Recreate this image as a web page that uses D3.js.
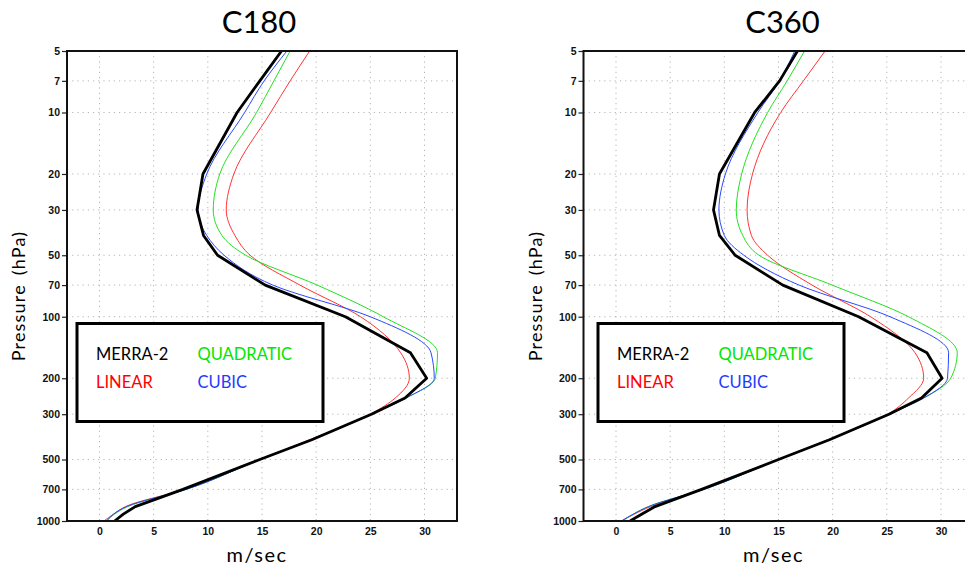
<!DOCTYPE html>
<html lang="en">
<head>
    <meta charset="UTF-8">
    <title>wind-profiles</title>
    <style>
        body {
            margin: 0;
            background: #fff;
            font-family: Lato, "Noto Sans", sans-serif;
        }
    </style>
    <script src="https://d3js.org/d3.v7.min.js"></script>
</head>
<body>

<script>

    // pressure levels (hPa) shared by every profile
    let levels = [5, 7, 10, 20, 30, 40, 50, 70, 100, 150, 200, 250, 300, 400, 500, 700, 850, 925, 1000]
    let yTicks = [5, 7, 10, 20, 30, 50, 70, 100, 200, 300, 500, 700, 1000]
    let xTicks = [0, 5, 10, 15, 20, 25, 30]

    // C180 panel, wind speed in m/sec per level
    let c180Merra = [16.8, 14.8, 12.7, 9.55, 9.0, 9.6, 10.9, 15.3, 22.7, 28.7, 30.2, 28.2, 25.1, 19.6, 14.8, 7.7, 3.3, 2.2, 1.4]
    let c180Linear = [19.4, 17.6, 15.8, 12.4, 11.7, 12.5, 13.9, 18.5, 24.1, 27.8, 28.6, 27.3, 25.0, 19.4, 14.8, 7.9, 2.4, 1.3, 0.4]
    let c180Quadratic = [17.6, 16.1, 14.5, 11.1, 10.5, 11.3, 13.5, 20.1, 26.2, 31.2, 31.0, 28.3, 25.1, 19.6, 14.8, 8.0, 2.6, 1.4, 0.6]
    let c180Cubic = [17.3, 15.2, 13.4, 9.9, 9.1, 9.9, 11.5, 16.0, 25.0, 30.6, 30.9, 28.3, 25.1, 19.6, 14.8, 8.0, 2.5, 1.3, 0.7]

    // C360 panel
    let c360Merra = [16.75, 15.1, 12.8, 9.55, 9.0, 9.55, 11.0, 15.4, 22.4, 28.7, 30.1, 28.2, 25.2, 19.7, 15.0, 7.9, 3.6, 2.4, 1.3]
    let c360Linear = [19.3, 17.3, 15.2, 12.6, 12.1, 12.5, 14.0, 18.1, 23.5, 27.6, 28.4, 27.0, 25.1, 19.6, 15.0, 8.0, 3.2, 1.7, 0.5]
    let c360Quadratic = [17.4, 15.8, 14.0, 11.6, 11.1, 11.7, 13.2, 19.96, 27.0, 31.5, 30.9, 28.4, 25.2, 19.7, 15.0, 8.1, 3.0, 1.6, 0.6]
    let c360Cubic = [16.5, 15.1, 13.1, 10.1, 9.5, 10.0, 11.8, 16.9, 25.3, 30.7, 30.6, 28.4, 25.2, 19.7, 15.0, 8.1, 3.0, 1.6, 0.5]

    let seriesNames = ["MERRA-2", "LINEAR", "QUADRATIC", "CUBIC"]
    let seriesColors = ["#000000", "#ff3434", "#22e022", "#2848ff"]
    let legendColors = ["#000000", "#ff0000", "#00e600", "#1e3cff"]
    let seriesWidths = [2.8, 1, 1, 1]

    let panels = [
        {title: "C180", left: 67, titleShift: -3, legendShift: 10, data: [c180Merra, c180Linear, c180Quadratic, c180Cubic]},
        {title: "C360", left: 583.5, titleShift: 4, legendShift: 14.5, data: [c360Merra, c360Linear, c360Quadratic, c360Cubic]}
    ]

    let width = 965
    let height = 568
    let plotW = 390
    let plotTop = 51
    let plotBottom = 521

    let svg = d3.select("body").append("svg")
        .attr("width", width)
        .attr("height", height)

    let y = d3.scaleLog().domain([5, 1000]).range([plotTop, plotBottom])

    panels.forEach(function (p) {
        let x = d3.scaleLinear().domain([-3, 33]).range([p.left, p.left + plotW])
        let g = svg.append("g")
        let mid = (x(-3) + x(33)) / 2

        // dotted grid
        g.append("g").selectAll("line")
            .data(xTicks)
            .enter().append("line")
            .attr("x1", d => x(d)).attr("x2", d => x(d))
            .attr("y1", plotTop).attr("y2", plotBottom)
            .attr("stroke", "#b4b4b4").attr("stroke-width", 1)
            .attr("stroke-dasharray", "1.2,4")
        g.append("g").selectAll("line")
            .data(yTicks.filter(d => d !== 5 && d !== 1000))
            .enter().append("line")
            .attr("x1", x(-3)).attr("x2", x(33))
            .attr("y1", d => y(d)).attr("y2", d => y(d))
            .attr("stroke", "#b4b4b4").attr("stroke-width", 1)
            .attr("stroke-dasharray", "1.2,4")

        // axes
        let yAxis = d3.axisLeft(y).tickValues(yTicks).tickFormat(d3.format("d")).tickSize(5).tickPadding(2)
        let xAxis = d3.axisBottom(x).tickValues(xTicks).tickFormat(d3.format("d")).tickSize(0).tickPadding(7)

        let ya = g.append("g").attr("transform", "translate(" + x(-3) + ",0)").call(yAxis)
        let xa = g.append("g").attr("transform", "translate(0," + plotBottom + ")").call(xAxis)
        ;[ya, xa].forEach(function (a) {
            a.select(".domain").remove()
            a.selectAll("text")
                .style("font-family", "'Liberation Sans', Arial, sans-serif")
                .style("font-weight", "bold")
                .style("font-size", "10.5px")
                .attr("fill", "#111")
            a.selectAll("line").attr("stroke", "#222").attr("stroke-width", 1.2)
        })

        // profiles: model curves are smooth, MERRA-2 is a plain polyline
        let smooth = d3.line()
            .x(d => x(d[1]))
            .y(d => y(d[0]))
            .curve(d3.curveMonotoneY)
        let line = d3.line()
            .x(d => x(d[1]))
            .y(d => y(d[0]))

        ;[1, 2, 3].forEach(function (i) {
            g.append("path")
                .datum(levels.map((lv, k) => [lv, p.data[i][k]]))
                .attr("d", smooth)
                .attr("fill", "none")
                .attr("stroke", seriesColors[i])
                .attr("stroke-width", seriesWidths[i])
        })
        g.append("path")
            .datum(levels.map((lv, k) => [lv, p.data[0][k]]))
            .attr("d", line)
            .attr("fill", "none")
            .attr("stroke", seriesColors[0])
            .attr("stroke-width", seriesWidths[0])
            .attr("stroke-linejoin", "round")

        // frame
        g.append("rect")
            .attr("x", x(-3)).attr("y", plotTop)
            .attr("width", plotW).attr("height", plotBottom - plotTop)
            .attr("fill", "none")
            .attr("stroke", "#111")
            .attr("stroke-width", 2)

        // legend box
        let lx = x(-3) + p.legendShift
        let lg = g.append("g")
        lg.append("rect")
            .attr("x", lx).attr("y", 323.5)
            .attr("width", 246).attr("height", 98)
            .attr("fill", "#fff")
            .attr("stroke", "#000")
            .attr("stroke-width", 3)
        seriesNames.forEach(function (name, i) {
            let col = i === 0 || i === 1 ? 0 : 1
            let row = i === 0 || i === 2 ? 0 : 1
            lg.append("text")
                .attr("x", lx + 19 + col * 101.5)
                .attr("y", 360 + row * 28)
                .attr("fill", legendColors[i])
                .style("font-size", "16.5px")
                .text(name)
        })

        // titles
        g.append("text")
            .attr("x", mid + p.titleShift).attr("y", 33)
            .attr("text-anchor", "middle")
            .style("font-size", "31px")
            .text(p.title)
        g.append("text")
            .attr("x", mid - 5).attr("y", 562)
            .attr("text-anchor", "middle")
            .style("font-size", "20px")
            .style("letter-spacing", "1.5px")
            .text("m/sec")
        g.append("text")
            .attr("transform", "translate(" + (p.left - 42) + ",296) rotate(-90)")
            .attr("text-anchor", "middle")
            .style("font-size", "18px")
            .style("letter-spacing", "1.2px")
            .style("word-spacing", "3px")
            .text("Pressure (hPa)")
    })

</script>

</body>
</html>
